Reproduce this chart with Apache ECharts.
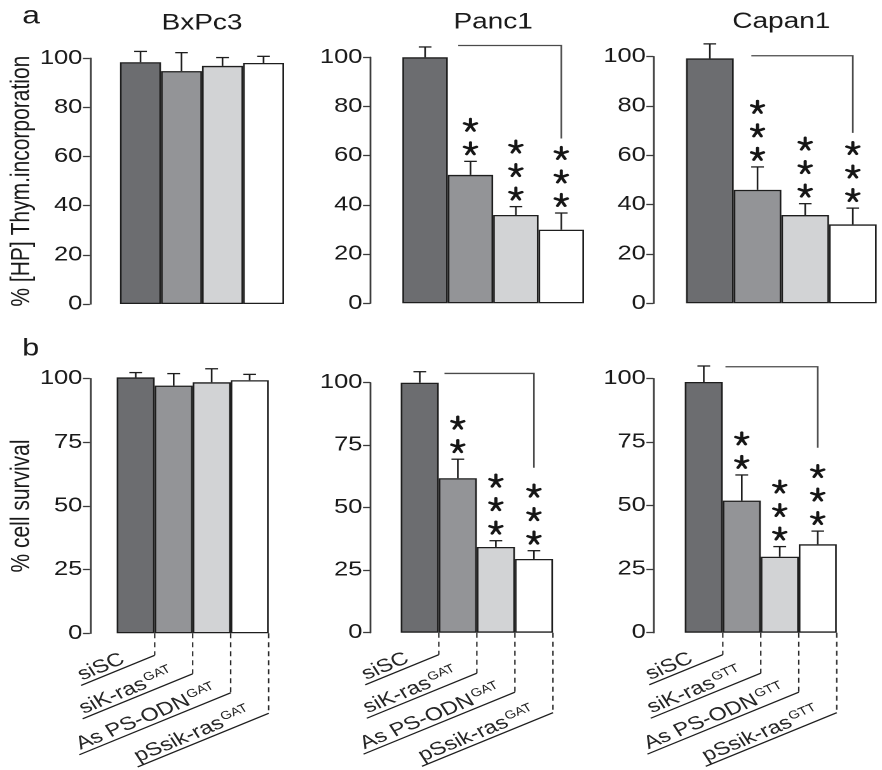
<!DOCTYPE html>
<html>
<head>
<meta charset="utf-8">
<script src="https://cdn.jsdelivr.net/npm/echarts@6/dist/echarts.min.js"></script>
<style>
html,body{margin:0;padding:0;background:#fff;overflow:hidden;}
#wrap{width:882px;height:770px;overflow:hidden;position:relative;}
.layer{position:absolute;left:0;top:0;width:694px;height:770px;transform:scaleX(1.270893);transform-origin:0 0;}
#labels{pointer-events:none;}
</style>
</head>
<body>
<div id="wrap"><div id="chart" class="layer"></div><div id="labels" class="layer"></div></div>
<script>
// ---------------- DATA ----------------
const categories = ['siSC', 'siK-ras', 'As PS-ODN', 'pSsik-ras'];
const panelTitles = ['BxPc3', 'Panc1', 'Capan1'];
const mutationTags = ['GAT', 'GAT', 'GTT'];
const thymTicks = [0, 20, 40, 60, 80, 100];
const survivalTicks = [0, 25, 50, 75, 100];

// (a) % [3H] thymidine incorporation
const bxpc3Thym = [98.4, 94.8, 96.9, 98.1];
const bxpc3ThymErr = [4.4, 7.5, 3.4, 2.7];
const panc1Thym = [100.0, 52.2, 35.9, 29.9];
const panc1ThymErr = [4.2, 5.5, 3.4, 6.8];
const capan1Thym = [99.3, 46.0, 35.8, 32.0];
const capan1ThymErr = [5.9, 9.3, 4.6, 6.6];

// (b) % cell survival
const bxpc3Surv = [100.5, 97.3, 98.6, 99.4];
const bxpc3SurvErr = [1.9, 4.7, 5.3, 2.3];
const panc1Surv = [100.0, 61.8, 34.3, 29.5];
const panc1SurvErr = [4.4, 7.6, 2.5, 3.3];
const capan1Surv = [98.7, 52.0, 29.9, 34.8];
const capan1SurvErr = [6.3, 10.1, 4.0, 5.2];

// significance stars per bar
const bxpc3ThymStars = [0, 0, 0, 0];
const panc1ThymStars = [0, 2, 3, 3];
const capan1ThymStars = [0, 3, 3, 3];
const bxpc3SurvStars = [0, 0, 0, 0];
const panc1SurvStars = [0, 2, 3, 3];
const capan1SurvStars = [0, 2, 3, 3];

// comparison brackets: [start category pos, end category pos, top value, bottom value]
const panc1ThymBracket = [0.73, 3.0, 104.8, 67.0];
const capan1ThymBracket = [0.87, 3.0, 100.4, 69.1];
const panc1SurvBracket = [0.65, 3.0, 103.7, 66.0];
const capan1SurvBracket = [0.57, 3.0, 104.7, 72.8];

// ---------------- STYLE / LAYOUT ----------------
const STRETCH = 882 / 694;
const FONT = "'Liberation Sans', Arial, Helvetica, sans-serif";
const barColors = ['#6c6d70', '#939497', '#d2d3d5', '#ffffff'];
const INK = '#1e1e1e';
const AXIS = '#3c3c3c';

const grids = [
  { left: 94.4, top: 58.3, width: 129.1, height: 245.7, off: 23.6 },
  { left: 316.6, top: 57.3, width: 142.9, height: 246.0, off: 25.5 },
  { left: 539.8, top: 56.7, width: 150.0, height: 246.6, off: 25.7 },
  { left: 91.8, top: 378.7, width: 119.6, height: 254.6, off: 21.0 },
  { left: 315.3, top: 382.7, width: 119.8, height: 250.0, off: 24.2 },
  { left: 538.8, top: 378.7, width: 119.6, height: 254.0, off: 24.7 }
];

const panels = [
  { mean: bxpc3Thym, err: bxpc3ThymErr, stars: bxpc3ThymStars, bracket: null, ticks: thymTicks },
  { mean: panc1Thym, err: panc1ThymErr, stars: panc1ThymStars, bracket: panc1ThymBracket, ticks: thymTicks },
  { mean: capan1Thym, err: capan1ThymErr, stars: capan1ThymStars, bracket: capan1ThymBracket, ticks: thymTicks },
  { mean: bxpc3Surv, err: bxpc3SurvErr, stars: bxpc3SurvStars, bracket: null, ticks: survivalTicks },
  { mean: panc1Surv, err: panc1SurvErr, stars: panc1SurvStars, bracket: panc1SurvBracket, ticks: survivalTicks },
  { mean: capan1Surv, err: capan1SurvErr, stars: capan1SurvStars, bracket: capan1SurvBracket, ticks: survivalTicks }
];

const STAR_GAP = 12.5, STAR_STEP = 23.5, STAR_R = 6.4;
const LABEL_DROPS = [22, 40.5, 59.5, 80];
const LABEL_DX = [57.9, 86.6, 119.1, 103.1];
const LABEL_TAN = 0.52;
const LABEL_ANGLE = Math.atan(LABEL_TAN);
const labelRich = {
  m: { fontSize: 18.5, fontFamily: FONT, fill: '#262626', verticalAlign: 'bottom' },
  s: { fontSize: 11.5, fontFamily: FONT, fill: '#262626', verticalAlign: 'top', padding: [0, 0, 0, 1] }
};

function labelText(i, tag) {
  return i === 0 ? '{m|' + categories[i] + '}' : '{m|' + categories[i] + '}{s|' + tag + '}';
}
function labelGeom(i, bx, by0) {
  const by = by0 + LABEL_DROPS[i];
  const dx = LABEL_DX[i];
  const lx = bx - dx, ly = by + dx * LABEL_TAN;
  const th = LABEL_ANGLE;
  const ux = Math.cos(th), uy = -Math.sin(th);
  const nx = -Math.sin(th), ny = -Math.cos(th);
  return { by, lx, ly, ax: lx + ux * 3 + nx * 1.0, ay: ly + uy * 3 + ny * 1.0 };
}

// ---------------- RENDERERS ----------------
function errRender(params, api) {
  const i = api.value(0), m = api.value(1), e = api.value(2);
  const p0 = api.coord([i, m]);
  const p1 = api.coord([i, m + e]);
  const hw = 5;
  const st = { stroke: INK, lineWidth: 1.3 };
  return {
    type: 'group', children: [
      { type: 'line', shape: { x1: p0[0], y1: p0[1], x2: p1[0], y2: p1[1] }, style: st },
      { type: 'line', shape: { x1: p1[0] - hw, y1: p1[1], x2: p1[0] + hw, y2: p1[1] }, style: st }
    ]
  };
}

function starRender(params, api) {
  const i = api.value(0), top = api.value(1), n = api.value(2);
  const p = api.coord([i, top]);
  const children = [];
  for (let k = 0; k < n; k++) {
    const cy = p[1] - STAR_GAP - k * STAR_STEP;
    for (let a = 0; a < 5; a++) {
      const ang = Math.PI / 2 + a * 2 * Math.PI / 5;
      children.push({
        type: 'line',
        shape: { x1: p[0], y1: cy, x2: p[0] + Math.cos(ang) * STAR_R / STRETCH, y2: cy - Math.sin(ang) * STAR_R },
        style: { stroke: '#161616', lineWidth: 2.5, lineCap: 'round' }
      });
    }
  }
  return { type: 'group', children };
}

function bracketRender(params, api) {
  const x0 = api.value(0), x1 = api.value(1), yt = api.value(2), yb = api.value(3);
  const band = api.size([1, 0])[0];
  const xAt = (v) => { const b = Math.floor(v); return api.coord([b, 0])[0] + (v - b) * band; };
  const top = api.coord([0, yt])[1], bot = api.coord([0, yb])[1];
  return {
    type: 'polyline',
    shape: { points: [[xAt(x0), top], [xAt(x1), top], [xAt(x1), bot]] },
    style: { stroke: '#4a4a4a', lineWidth: 1.3, fill: null }
  };
}

// lines of the category key (canvas layer)
function labelLinesRender(params, api) {
  const i = params.dataIndex;
  const band = api.size([1, 0])[0];
  const base = api.coord([i, 0]);
  const bx = base[0] + band / 2, by0 = base[1];
  const g = labelGeom(i, bx, by0);
  return {
    type: 'group', children: [
      { type: 'line', shape: { x1: bx, y1: by0, x2: bx, y2: g.by }, style: { stroke: '#2a2a2a', lineWidth: 1.1, lineDash: [5, 4] } },
      { type: 'line', shape: { x1: g.lx, y1: g.ly, x2: bx, y2: g.by }, style: { stroke: '#1e1e1e', lineWidth: 1.2 } }
    ]
  };
}
// rotated category texts (svg layer)
function makeLabelTextRender(tag) {
  return function (params, api) {
    const i = params.dataIndex;
    const band = api.size([1, 0])[0];
    const base = api.coord([i, 0]);
    const g = labelGeom(i, base[0] + band / 2, base[1]);
    return {
      type: 'text', x: g.ax, y: g.ay, rotation: LABEL_ANGLE, originX: 0, originY: 0,
      style: { text: labelText(i, tag), align: 'left', verticalAlign: 'bottom', rich: labelRich }
    };
  };
}

// ---------------- OPTIONS ----------------
function axesFor(visible) {
  return {
    grid: grids.map(g => ({ left: g.left, top: g.top, width: g.width, height: g.height, containLabel: false })),
    xAxis: grids.map((g, gi) => ({
      gridIndex: gi, type: 'category', data: categories,
      position: gi < 3 ? 'top' : 'bottom',
      name: visible && gi < 3 ? panelTitles[gi] : '',
      nameLocation: 'middle', nameGap: 24,
      nameTextStyle: { fontSize: 22, color: '#1a1a1a', fontFamily: FONT },
      axisLine: { show: false }, axisTick: { show: false }, axisLabel: { show: false },
      splitLine: { show: false }
    })),
    yAxis: grids.map((g, gi) => {
      const ticks = panels[gi].ticks;
      return {
        gridIndex: gi, type: 'value',
        min: ticks[0], max: ticks[ticks.length - 1], interval: ticks[1] - ticks[0],
        offset: g.off,
        name: !visible ? '' : (gi === 0 ? '% [HP] Thym.incorporation' : (gi === 3 ? '% cell survival' : '')),
        nameLocation: 'middle', nameGap: 42,
        nameTextStyle: { fontSize: 21, color: '#1a1a1a', fontFamily: FONT },
        axisLine: { show: visible, lineStyle: { color: AXIS, width: 1.4 } },
        axisTick: { show: visible, length: 5.5, lineStyle: { color: AXIS, width: 1.3 } },
        axisLabel: { show: visible, fontSize: 20, color: '#1a1a1a', margin: 6, fontFamily: FONT },
        splitLine: { show: false }
      };
    })
  };
}

const option = Object.assign({
  animation: false,
  backgroundColor: '#ffffff',
  title: [
    { text: 'a', left: 12.5, top: -1, textStyle: { fontSize: 25, fontWeight: 'normal', color: '#1a1a1a', fontFamily: FONT } },
    { text: 'b', left: 12.5, top: 332, textStyle: { fontSize: 24, fontWeight: 'normal', color: '#1a1a1a', fontFamily: FONT } }
  ],
  series: []
}, axesFor(true));

const labelOption = Object.assign({
  animation: false,
  backgroundColor: 'transparent',
  series: []
}, axesFor(false));

panels.forEach((p, gi) => {
  option.series.push({
    type: 'bar', xAxisIndex: gi, yAxisIndex: gi, barCategoryGap: '0%', clip: false, z: 2,
    data: p.mean.map((v, i) => ({ value: v, itemStyle: { color: barColors[i] } })),
    itemStyle: { borderColor: INK, borderWidth: 1.3 }
  });
  option.series.push({
    type: 'custom', xAxisIndex: gi, yAxisIndex: gi, clip: false, z: 3,
    renderItem: errRender,
    data: p.mean.map((v, i) => [i, v, p.err[i]])
  });
  const sd = [];
  p.stars.forEach((n, i) => { if (n > 0) sd.push([i, p.mean[i] + p.err[i], n]); });
  if (sd.length) option.series.push({
    type: 'custom', xAxisIndex: gi, yAxisIndex: gi, clip: false, z: 4,
    renderItem: starRender, data: sd
  });
  if (p.bracket) option.series.push({
    type: 'custom', xAxisIndex: gi, yAxisIndex: gi, clip: false, z: 4,
    renderItem: bracketRender, data: [p.bracket]
  });
  if (gi >= 3) {
    option.series.push({
      type: 'custom', xAxisIndex: gi, yAxisIndex: gi, clip: false, z: 4,
      renderItem: labelLinesRender,
      data: categories.map((c, i) => [i, 0])
    });
    labelOption.series.push({
      type: 'custom', xAxisIndex: gi, yAxisIndex: gi, clip: false, z: 4,
      renderItem: makeLabelTextRender(mutationTags[gi - 3]),
      data: categories.map((c, i) => [i, 0])
    });
  }
});

const chart = echarts.init(document.getElementById('chart'), null, { renderer: 'canvas', devicePixelRatio: 2 });
chart.setOption(option);
const labelChart = echarts.init(document.getElementById('labels'), null, { renderer: 'svg' });
labelChart.setOption(labelOption);
</script>
</body>
</html>
